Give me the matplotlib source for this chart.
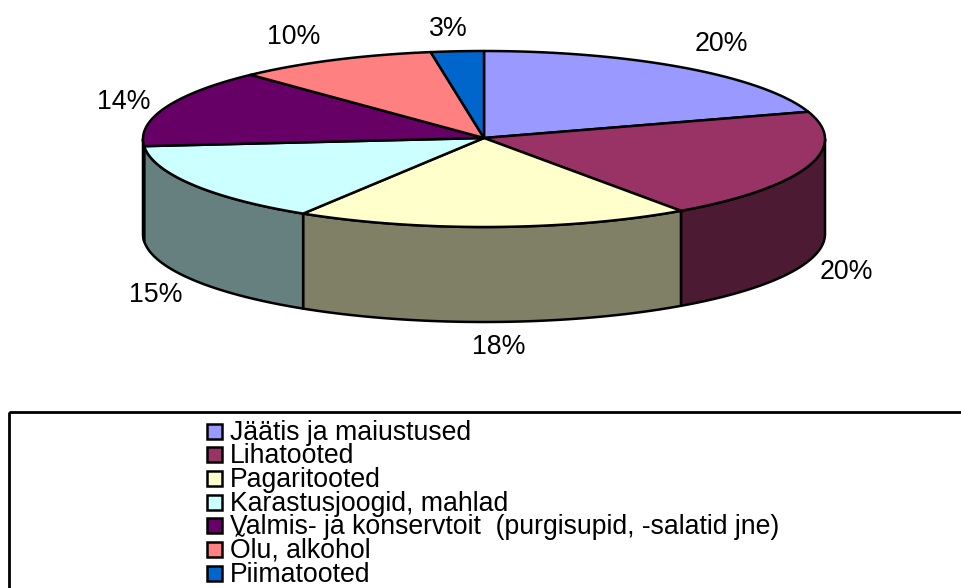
import numpy as np
import matplotlib
matplotlib.use("Agg")
import matplotlib.pyplot as plt
from matplotlib.patches import Polygon, Rectangle

categories = ["Jäätis ja maiustused", "Lihatooted", "Pagaritooted", "Karastusjoogid, mahlad",
              "Valmis- ja konservtoit  (purgisupid, -salatid jne)", "Õlu, alkohol", "Piimatooted"]
shares = [20.0, 20.2, 18.7, 14.8, 14.3, 9.5, 2.5]
value_labels = ["20%", "20%", "18%", "15%", "14%", "10%", "3%"]
colors = ["#9999FF", "#993366", "#FFFFCC", "#CCFFFF", "#660066", "#FF8080", "#0066CC"]
side_colors = ["#4D1A33", "#4D1A33", "#808066", "#668080", "#668080", "#804040", "#003366"]

label_px = [(721, 44), (846, 272), (499, 347), (156, 295), (124, 102), (294, 37), (448, 29)]

cx, cy, rx, ry, depth = 484.0, 139.0, 341.0, 88.0, 95.0
plt.rcParams["font.family"] = ["Liberation Sans", "DejaVu Sans"]

fig = plt.figure(figsize=(9.62, 5.88), dpi=100)
ax = fig.add_axes([0, 0, 1, 1])
ax.set_xlim(0, 962)
ax.set_ylim(588, 0)
ax.axis("off")


def rim(a0, a1, dy=0.0):
    t = np.radians(np.linspace(a0, a1, max(int(abs(a1 - a0) * 2), 2)))
    return np.column_stack([cx + rx * np.sin(t), cy - ry * np.cos(t) + dy])


edges = np.concatenate([[0], np.cumsum(shares)]) / np.sum(shares) * 360
lw = 1.8
for i in range(len(shares)):
    a0, a1 = max(edges[i], 90), min(edges[i + 1], 270)
    if a1 > a0:
        pts = np.vstack([rim(a0, a1), rim(a0, a1, depth)[::-1]])
        ax.add_patch(Polygon(pts, closed=True, fc=side_colors[i], ec="black", lw=lw, joinstyle="round"))
for i in range(len(shares)):
    pts = np.vstack([[[cx, cy - 1]], rim(edges[i], edges[i + 1])])
    ax.add_patch(Polygon(pts, closed=True, fc=colors[i], ec="black", lw=lw, joinstyle="round"))

for (x, y), s in zip(label_px, value_labels):
    ax.text(x, y, s, ha="center", va="center", fontsize=19.3, color="black")

ax.add_patch(Rectangle((9.5, 412), 1000, 300, fc="none", ec="black", lw=2.0))

# legend rows
row_y0, row_h = 431.0, 23.7
for i, (name, c) in enumerate(zip(categories, colors)):
    y = row_y0 + i * row_h
    ax.add_patch(Rectangle((207, y - 7.5), 15, 15, fc=c, ec="black", lw=1.8))
    ax.text(230, y + 8.5, name, ha="left", va="baseline", fontsize=19.2, color="black")

fig.savefig("out.png", dpi=100)
